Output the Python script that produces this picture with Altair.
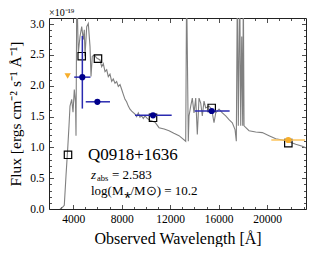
import altair as alt
import pandas as pd

# ---------------- data ----------------
wave = [2907, 3072, 3262, 3402, 3543, 3650, 3732, 3873, 3980, 4087, 4186, 4228, 4293,
        4417, 4557, 4698, 4830, 4912, 4970, 5110, 5242, 5382, 5465, 5572, 5737, 5935,
        6207, 6348, 6480, 6620, 6760, 6892, 7030, 7172, 7300, 7445, 7580, 7717, 7860,
        7998, 8130, 8270, 8400, 8542, 8680, 8822, 9095, 9230, 9367, 9500, 9648, 9780,
        9920, 10100, 10332, 10745, 11075, 11500, 11900, 12300, 12725, 13278, 13352,
        13492, 13550, 13690, 13822, 13962, 14103, 14235, 14375, 14515, 14647, 14787,
        14928, 15200, 15340, 15472, 15612, 15752, 16025, 16297, 16578, 16850, 17122,
        17345, 17452, 17535, 17617, 17733, 17815, 17898, 17980, 18030, 18088, 18500,
        19053, 19597, 20150, 20703, 21247, 21800, 22353, 22897, 23450]
flux = [0.0, 0.02, 0.06, 0.54, 0.98, 1.35, 1.67, 1.78, 1.57, 1.94, 1.73, 1.19, 3.6,
        2.53, 2.80, 2.96, 2.75, 2.91, 2.48, 2.96, 3.01, 2.64, 2.15, 2.48, 2.50, 2.45,
        2.42, 2.31, 2.36, 2.23, 2.26, 2.15, 2.19, 2.07, 2.11, 2.04, 2.07, 1.99, 2.02,
        1.94, 1.86, 1.78, 1.74, 1.67, 1.62, 1.59, 1.54, 1.50, 1.56, 1.49, 1.51, 1.47,
        1.51, 1.47, 1.44, 1.41, 1.32, 1.30, 1.27, 1.23, 1.19, 1.10, 3.6,
        1.10, 1.51, 1.67, 1.80, 1.56, 1.80, 1.21, 1.80, 1.72, 1.51, 1.75,
        1.64, 1.67, 1.64, 1.56, 1.40, 1.56, 1.62, 1.56, 1.51, 1.45, 1.40,
        1.29, 1.10, 3.6, 1.35, 3.6, 1.35, 2.8, 1.35, 3.6, 1.35, 1.27,
        1.25, 1.24, 1.19, 1.14, 1.12, 1.09, 1.05, 1.02, 0.97]

sq_wave = [3567, 4698, 6040, 10580, 15420, 21742]
sq_flux = [0.88, 2.48, 2.44, 1.48, 1.64, 1.07]

blue_wave = [4750, 5990, 10580, 15420]
blue_flux = [2.14, 1.74, 1.52, 1.59]
blue_wlo = [4080, 5030, 9095, 14020]
blue_whi = [5420, 7030, 12120, 16900]
blue_yerr_wave = [4750]
blue_ylo = [1.63]
blue_yhi = [2.81]

lim_wave = [3540]
lim_flux = [2.16]

or_wave = [21740]
or_flux = [1.12]
or_wlo = [20340]
or_whi = [23120]

x_major = [4000, 8000, 12000, 16000, 20000]
x_minor = [3000, 5000, 6000, 7000, 9000, 10000, 11000, 13000, 14000, 15000,
           17000, 18000, 19000, 21000, 22000, 23000]
y_major = [0.0, 0.5, 1.0, 1.5, 2.0, 2.5, 3.0]
y_minor = [0.1, 0.2, 0.3, 0.4, 0.6, 0.7, 0.8, 0.9, 1.1, 1.2, 1.3, 1.4, 1.6, 1.7,
           1.8, 1.9, 2.1, 2.2, 2.3, 2.4, 2.6, 2.7, 2.8, 2.9]

label_text = "Q0918+1636"
zabs_value = "= 2.583"
mass_text = "log(M⁎/M⊙) = 10.2"
scale_text = "×10⁻¹⁹"
x_title = "Observed Wavelength [Å]"
y_title = "Flux [ergs cm⁻² s⁻¹ Å⁻¹]"

# ---------------- settings ----------------
W, H = 257, 191
FONT = "Liberation Serif"
xs = alt.Scale(domain=[2000, 23200], nice=False, zero=False)
ys = alt.Scale(domain=[0, 3.1], nice=False, zero=False)

spec_df = pd.DataFrame({"w": wave, "f": flux})
sq_df = pd.DataFrame({"w": sq_wave, "f": sq_flux})
blue_df = pd.DataFrame({"w": blue_wave, "f": blue_flux, "wlo": blue_wlo, "whi": blue_whi})
blue_y_df = pd.DataFrame({"w": blue_yerr_wave, "flo": blue_ylo, "fhi": blue_yhi})
lim_df = pd.DataFrame({"w": lim_wave, "f": lim_flux})
or_df = pd.DataFrame({"w": or_wave, "f": or_flux, "wlo": or_wlo, "whi": or_whi})


def X(field="w", axis=None):
    return alt.X(field, type="quantitative", scale=xs, axis=axis)


def Y(field="f", axis=None):
    return alt.Y(field, type="quantitative", scale=ys, axis=axis)


def axis_layer(xaxis, yaxis):
    return alt.Chart(sq_df).mark_point(opacity=0).encode(x=X(axis=xaxis), y=Y(axis=yaxis))


# label axes (no ticks)
lab_layer = axis_layer(
    alt.Axis(orient="bottom", values=x_major, format="d", ticks=False, tickSize=0,
             domain=False, grid=False, labelPadding=4, title=x_title, titlePadding=6,
             labelFontSize=11.5, titleFontSize=16, labelFont=FONT, titleFont=FONT,
             titleFontWeight="normal", labelColor="black", titleColor="black"),
    alt.Axis(orient="left", values=y_major, format=".1f", ticks=False, tickSize=0,
             domain=False, grid=False, labelPadding=5, title=y_title, titlePadding=6,
             labelFontSize=11.5, titleFontSize=15.5, labelFont=FONT, titleFont=FONT,
             titleFontWeight="normal", labelColor="black", titleColor="black"),
)


def tick_axis(orient, values, size):
    return alt.Axis(orient=orient, values=values, labels=False, domain=False, grid=False,
                    title=None, ticks=True, tickSize=size, tickColor="#222",
                    tickWidth=0.8, offset=-(H if orient in ("top", "bottom") else W))


ticks1 = axis_layer(tick_axis("top", x_major, 4.5), tick_axis("right", y_major, 4.5))
ticks2 = axis_layer(tick_axis("top", x_minor, 2.5), tick_axis("right", y_minor, 2.5))
ticks3 = axis_layer(tick_axis("bottom", x_major, 4.5), tick_axis("left", y_major, 4.5))
ticks4 = axis_layer(tick_axis("bottom", x_minor, 2.5), tick_axis("left", y_minor, 2.5))

spectrum = alt.Chart(spec_df).mark_line(color="#808080", strokeWidth=1.1, clip=True).encode(
    x=X(), y=Y(), order="w:Q")

squares = alt.Chart(sq_df).mark_point(shape="square", filled=False, color="black",
                                      strokeWidth=1.2, size=55, opacity=1).encode(x=X(), y=Y())

blue_xerr = alt.Chart(blue_df).mark_rule(color="#2a2ab0", strokeWidth=1.5).encode(
    x=X("wlo"), x2="whi", y=Y())
blue_yerr = alt.Chart(blue_y_df).mark_rule(color="#2a2ab0", strokeWidth=1.5).encode(
    x=X(), y=Y("flo"), y2="fhi")
blue_pts = alt.Chart(blue_df).mark_point(filled=True, color="#00008b", size=38,
                                         opacity=1).encode(x=X(), y=Y())

or_err = alt.Chart(or_df).mark_rule(color="#fcc45c", strokeWidth=1.5).encode(
    x=X("wlo"), x2="whi", y=Y())
or_pts = alt.Chart(or_df).mark_point(filled=True, color="#f7ae2b", size=38,
                                     opacity=1).encode(x=X(), y=Y())
lim_pts = alt.Chart(lim_df).mark_point(shape="triangle-down", filled=True, color="#f7ae2b",
                                       size=40, opacity=1).encode(x=X(), y=Y())

txt_df = pd.DataFrame({"w": [5218], "f": [0.88], "t": [label_text]})
z_df = pd.DataFrame({"w": [5465], "f": [0.556], "t": ["z"]})
zs_df = pd.DataFrame({"w": [5465], "f": [0.556], "t": ["abs"]})
zv_df = pd.DataFrame({"w": [5465], "f": [0.556], "t": [zabs_value]})
m_df = pd.DataFrame({"w": [5465], "f": [0.30], "t": [mass_text]})
sc_df = pd.DataFrame({"w": [2000], "f": [3.1], "t": [scale_text]})

t1 = alt.Chart(txt_df).mark_text(align="left", baseline="middle", font=FONT, fontSize=17,
                                 color="black").encode(x=X(), y=Y(), text="t:N")
t2 = alt.Chart(z_df).mark_text(align="left", baseline="middle", font=FONT, fontSize=13,
                               fontStyle="italic", color="black").encode(x=X(), y=Y(), text="t:N")
t3 = alt.Chart(zs_df).mark_text(align="left", baseline="middle", font=FONT, fontSize=8.5,
                                dx=6, dy=3, color="black").encode(x=X(), y=Y(), text="t:N")
t4 = alt.Chart(zv_df).mark_text(align="left", baseline="middle", font=FONT, fontSize=13,
                                dx=21, color="black").encode(x=X(), y=Y(), text="t:N")
t5 = alt.Chart(m_df).mark_text(align="left", baseline="middle", font=FONT, fontSize=13,
                               color="black").encode(x=X(), y=Y(), text="t:N")
t6 = alt.Chart(sc_df).mark_text(align="left", baseline="bottom", font=FONT, fontSize=10,
                                dy=0, color="black").encode(x=X(), y=Y(), text="t:N")

chart = alt.layer(
    lab_layer, ticks1, ticks2, ticks3, ticks4,
    spectrum, squares, blue_xerr, blue_yerr, blue_pts, or_err, or_pts, lim_pts,
    t1, t2, t3, t4, t5, t6,
).resolve_axis(x="independent", y="independent").properties(
    width=W, height=H, padding={"left": 0, "top": 0, "right": 0, "bottom": 0},
    background="white"
).configure_view(stroke="#222", strokeWidth=1).configure_axis(
    labelFont=FONT, titleFont=FONT, titleFontWeight="normal", labelColor="black",
    titleColor="black"
)

chart.save("out.html", embed_options={"renderer": "svg", "actions": False})
